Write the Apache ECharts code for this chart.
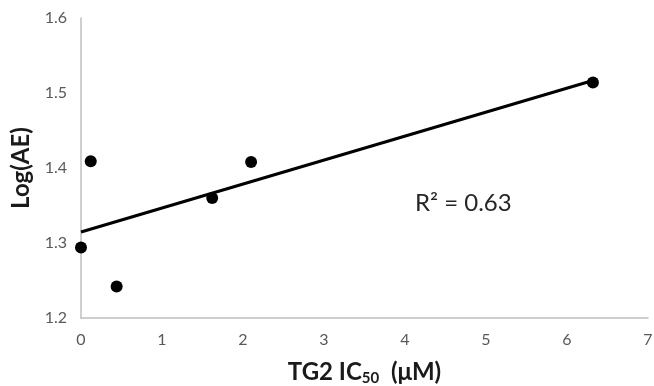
<!DOCTYPE html>
<html><head><meta charset="utf-8">
<script src="https://cdn.jsdelivr.net/npm/echarts@6/dist/echarts.min.js"></script>
<style>html,body{margin:0;padding:0;background:#fff}#c{width:654px;height:386px}</style>
</head><body><div id="c"></div>
<script>
const xValues = [0, 0.12, 0.44, 1.62, 2.10, 6.32];
const yValues = [1.294, 1.409, 1.242, 1.360, 1.408, 1.514];
const xTicks = [0, 1, 2, 3, 4, 5, 6, 7];
const yTicks = [1.2, 1.3, 1.4, 1.5, 1.6];
const r2Label = 'R² = 0.63';

// least-squares trendline from the data
const n = xValues.length;
const mx = xValues.reduce((a, b) => a + b, 0) / n;
const my = yValues.reduce((a, b) => a + b, 0) / n;
let sxy = 0, sxx = 0;
for (let i = 0; i < n; i++) { sxy += (xValues[i] - mx) * (yValues[i] - my); sxx += (xValues[i] - mx) ** 2; }
const slope = sxy / sxx, intercept = my - slope * mx;
const xMin = Math.min(...xValues), xMax = Math.max(...xValues);
const trend = [[xMin, intercept + slope * xMin], [xMax, intercept + slope * xMax]];

const chart = echarts.init(document.getElementById('c'));
const font = 'Lato, "Open Sans", sans-serif';
chart.setOption({
  animation: false,
  grid: { left: 81, right: 6, top: 18, bottom: 68, containLabel: false, outerBoundsMode: 'none' },
  xAxis: {
    type: 'value', min: xTicks[0], max: xTicks[xTicks.length - 1], interval: 1,
    axisLine: { lineStyle: { color: '#bfbfbf', width: 1.5 } },
    axisTick: { show: false }, splitLine: { show: false },
    axisLabel: { color: '#595959', fontSize: 16, fontFamily: font, margin: 14 },
    name: '{b|TG2 IC}{s|50}{b|  (μM)}', nameLocation: 'middle', nameGap: 40,
    nameTextStyle: { rich: {
      b: { fontSize: 24, fontWeight: 'bold', color: '#1a1a1a', fontFamily: font },
      s: { fontSize: 15, fontWeight: 'bold', color: '#1a1a1a', fontFamily: font, padding: [13, 0, 0, 0] }
    } }
  },
  yAxis: {
    type: 'value', min: yTicks[0], max: yTicks[yTicks.length - 1], interval: 0.1,
    axisLine: { show: true, lineStyle: { color: '#bfbfbf', width: 1.5 } },
    axisTick: { show: false }, splitLine: { show: false },
    axisLabel: { color: '#595959', fontSize: 16, fontFamily: font, margin: 14, formatter: v => v.toFixed(1) },
    name: 'Log(AE)', nameLocation: 'middle', nameGap: 45,
    nameTextStyle: { fontSize: 24, fontWeight: 'bold', color: '#1a1a1a', fontFamily: font }
  },
  series: [
    { type: 'line', data: trend, symbol: 'none', lineStyle: { color: '#000', width: 3 }, z: 2 },
    { type: 'scatter', data: xValues.map((x, i) => [x, yValues[i]]), symbolSize: 12,
      itemStyle: { color: '#000', opacity: 1 }, z: 3 }
  ],
  graphic: [{ type: 'text', left: 415, top: 191,
    style: { text: r2Label, fontSize: 24, fontFamily: font, fill: '#262626' } }]
});
</script></body></html>
